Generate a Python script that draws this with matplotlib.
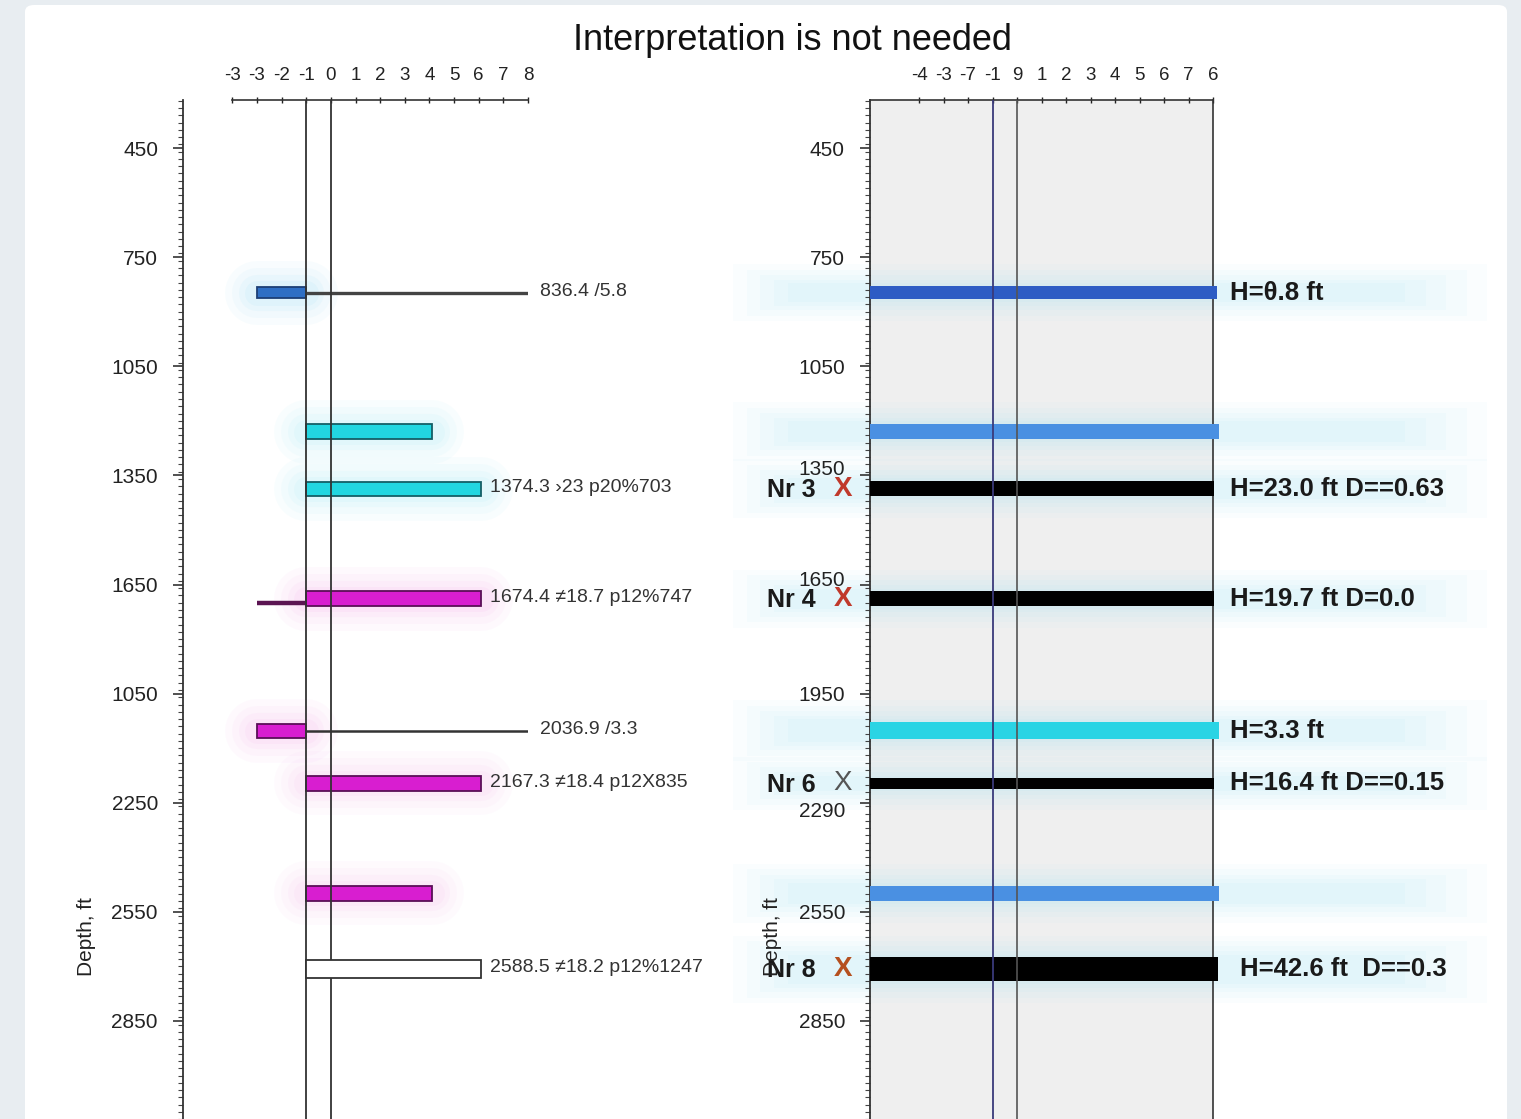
import matplotlib
matplotlib.use('Agg')
import matplotlib.pyplot as plt
import matplotlib.transforms as mtransforms
from matplotlib.patches import Rectangle, FancyBboxPatch
from matplotlib.ticker import FixedLocator, MultipleLocator
import numpy as np

plt.rcParams['font.family'] = ['Liberation Sans', 'DejaVu Sans']

# ---------------- data ----------------
depth_ticks = [450, 750, 1050, 1350, 1650, 1950, 2250, 2550, 2850, 3150]
left_depth_labels = ['450', '750', '1050', '1350', '1650', '1050', '2250', '2550', '2850', '3150']
right_depth_labels = ['450', '750', '1050', '1350', '1650', '1950', '2290', '2550', '2850', '3150']
x_ticks = [-4, -3, -2, -1, 0, 1, 2, 3, 4, 5, 6, 7, 8]
left_x_labels = ['-3', '-3', '-2', '-1', '0', '1', '2', '3', '4', '5', '6', '7', '8']
right_x_labels = ['-4', '-3', '-7', '-1', '9', '1', '2', '3', '4', '5', '6', '7', '6']

zone_depth = [848, 1230, 1387, 1689, 2052, 2197, 2499, 2708]
bar_start = [-3, -1, -1, -1, -3, -1, -1, -1]
bar_end = [-1, 4.1, 6.1, 6.1, -1, 6.1, 4.1, 6.1]
tail_start = [-1, np.nan, np.nan, -3, -1, np.nan, np.nan, np.nan]
tail_end = [8, np.nan, np.nan, -1, 8, np.nan, np.nan, np.nan]
left_notes = ['836.4 /5.8', '', '1374.3 \u203a23 p20%703', '1674.4 \u226018.7 p12%747',
              '2036.9 /3.3', '2167.3 \u226018.4 p12X835', '', '2588.5 \u226018.2 p12%1247']

band_end = [8.15, 8.25, 8.05, 8.05, 8.25, 8.05, 8.25, 8.2]
right_notes = ['H=\u03b8.8 ft', '', 'H=23.0 ft D==0.63', 'H=19.7 ft D=0.0', 'H=3.3 ft',
               'H=16.4 ft D==0.15', '', 'H=42.6 ft  D==0.3']
well_names = ['', '', 'Nr 3', 'Nr 4', '', 'Nr 6', '', 'Nr 8']

# ---------------- styles ----------------
left_fill = ['#2f6fc4', '#22d6e0', '#22d6e0', '#d81ed0', '#d81ed0', '#d81ed0', '#d81ed0', 'white']
left_edge = ['#1d3f75', '#145f66', '#145f66', '#5a0f57', '#5a0f57', '#5a0f57', '#5a0f57', '#333333']
left_h = [30, 40, 40, 40, 38, 40, 40, 50]
tail_color = ['#444444', None, None, '#5b1452', '#333333', None, None, None]
tail_lw = [2.4, 0, 0, 3.2, 1.8, 0, 0, 0]
left_glow = ['#9fe0f5', '#a8ecf5', '#a8ecf5', '#f5b0ee', '#f5b8f0', '#f5c0f0', '#f5c0f0', None]

band_color = ['#2d5cc4', '#4a90e2', 'black', 'black', '#2ad4e4', 'black', '#4a90e2', 'black']
band_h = [36, 42, 42, 40, 47, 28, 42, 66]
x_color = [None, None, '#c0392b', '#c0392b', None, '#555555', None, '#b5501f']

W, H = 1521, 1119
fig = plt.figure(figsize=(W / 100, H / 100), dpi=100)
fig.patch.set_facecolor('#e8edf1')
fig.patches.append(FancyBboxPatch((25 / W, -0.02), 1482 / W, 1.0 - 5 / H + 0.02,
                                  boxstyle='round,pad=0,rounding_size=0.006',
                                  transform=fig.transFigure, facecolor='white',
                                  edgecolor='none', zorder=-5))


def rect(x0, x1, ytop, ybot):
    return [x0 / W, 1 - ybot / H, (x1 - x0) / W, (ybot - ytop) / H]


px_per_ft = 873 / 2400.0
ytop_d = 450 - 48 / px_per_ft
ybot_d = 450 + 1002 / px_per_ft

axL = fig.add_axes(rect(183, 528, 100, 1150))
axR = fig.add_axes(rect(870, 1213, 100, 1150))

for ax in (axL, axR):
    ax.set_xlim(-6, 8)
    ax.set_ylim(ybot_d, ytop_d)
    ax.yaxis.set_major_locator(FixedLocator(depth_ticks))
    ax.yaxis.set_minor_locator(MultipleLocator(20))
    ax.tick_params(axis='y', which='major', length=7, width=1.1, labelsize=15, pad=11, colors='#222222')
    ax.tick_params(axis='y', which='minor', length=3.5, width=0.8, colors='#444444')
    ax.xaxis.tick_top()
    ax.set_xticks(x_ticks)
    ax.tick_params(axis='x', which='major', direction='inout', length=5, width=1.0,
                   labelsize=13.5, pad=9, colors='#222222')
    ax.spines['bottom'].set_visible(False)
    ax.spines['left'].set_color('#333333')
    ax.spines['left'].set_linewidth(1.3)

axL.set_yticklabels(left_depth_labels)
axR.set_yticklabels(right_depth_labels)
axL.set_xticklabels(left_x_labels)
axR.set_xticklabels(right_x_labels)

# left panel
axL.set_facecolor('none')
axL.spines['top'].set_visible(False)
axL.spines['right'].set_visible(False)
blendL = mtransforms.blended_transform_factory(axL.transData, axL.transAxes)
axL.plot([-4, 8], [1, 1], transform=blendL, color='#333333', lw=1.2, clip_on=False)
axL.axvline(-1, color='#333333', lw=1.3, zorder=5)
axL.axvline(0, color='#333333', lw=1.3, zorder=5)

for i, d in enumerate(zone_depth):
    gc = left_glow[i]
    if gc:
        for lw, a in [(46, 0.07), (36, 0.08), (26, 0.10), (18, 0.12)]:
            axL.plot([bar_start[i], bar_end[i]], [d, d], color=gc, lw=lw, alpha=a,
                     solid_capstyle='round', zorder=1, clip_on=False)
    axL.barh(d, bar_end[i] - bar_start[i], left=bar_start[i], height=left_h[i],
             color=left_fill[i], edgecolor=left_edge[i], lw=1.3,
             zorder=6 if left_fill[i] == 'white' else 4)
    if not np.isnan(tail_start[i]):
        off = 11 if i == 3 else 0
        axL.plot([tail_start[i], tail_end[i]], [d + off, d + off], color=tail_color[i],
                 lw=tail_lw[i], zorder=4.5, solid_capstyle='butt')
    if left_notes[i]:
        xt = 8.5 if tail_end[i] == 8 else 6.45
        axL.text(xt, d - 4, left_notes[i], fontsize=14, color='#333333', ha='left',
                 va='center', clip_on=False)

# right panel
axR.set_facecolor('#efefef')
for s in ('top', 'right'):
    axR.spines[s].set_color('#333333')
    axR.spines[s].set_linewidth(1.2)
axR.axvline(-1, color='#3a3a7a', lw=1.3, zorder=5)
axR.axvline(0, color='#555555', lw=1.2, zorder=5)
blendR = mtransforms.blended_transform_factory(axR.transAxes, axR.transData)
glow_layers = [(-0.40, 2.20, 120, 0.06), (-0.36, 2.10, 90, 0.07), (-0.32, 2.00, 60, 0.08),
               (-0.28, 1.90, 35, 0.09), (-0.24, 1.80, 15, 0.10)]
for i, d in enumerate(zone_depth):
    for x0, wd, extra, a in glow_layers:
        axR.add_patch(Rectangle((x0, d - (band_h[i] + extra) / 2), wd, band_h[i] + extra,
                                transform=blendR, facecolor='#b0e8f6', alpha=a,
                                edgecolor='none', zorder=0.5, clip_on=False))
    axR.barh(d, band_end[i] + 6, left=-6, height=band_h[i], color=band_color[i],
             edgecolor='none', zorder=4, clip_on=False)
    if right_notes[i]:
        xt = 9.1 if i == 7 else 8.7
        axR.text(xt, d, right_notes[i], fontsize=18.5, fontweight='bold', color='#1a1a1a',
                 ha='left', va='center', clip_on=False)
    if well_names[i]:
        axR.text(-8.2, d + 3, well_names[i], fontsize=18, fontweight='bold', color='#1a1a1a',
                 ha='right', va='center', clip_on=False)
        axR.text(-7.1, d, 'X', fontsize=20, color=x_color[i], ha='center', va='center',
                 fontweight='bold' if i != 5 else 'normal', clip_on=False)

# shift some right tick labels like the reference
shifts = {'1350': 8, '1650': 6, '2290': -7}
for lab in axR.get_yticklabels():
    s = lab.get_text()
    if s in shifts:
        lab.set_transform(lab.get_transform() +
                          mtransforms.ScaledTranslation(0, shifts[s] / 100, fig.dpi_scale_trans))

fig.text(792 / W, 1 - 40 / H, 'Interpretation is not needed', fontsize=26, ha='center',
         va='center', color='#111111')
fig.text(87 / W, 1 - 937 / H, 'Depth, ft', fontsize=15, rotation=90, ha='center',
         va='center', color='#222222')
fig.text(772 / W, 1 - 937 / H, 'Depth, ft', fontsize=15, rotation=90, ha='center',
         va='center', color='#222222')

fig.savefig('out.png', dpi=100, facecolor=fig.get_facecolor())
